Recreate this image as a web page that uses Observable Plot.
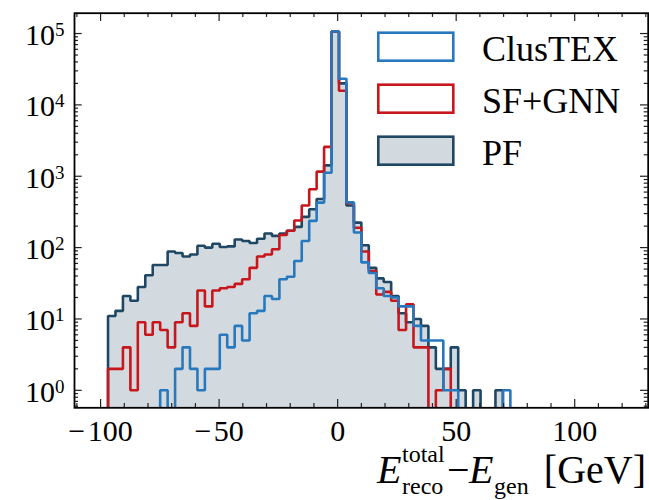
<!DOCTYPE html>
<html>
<head>
<meta charset="utf-8">
<script src="https://cdn.jsdelivr.net/npm/d3@7"></script>
<script src="https://cdn.jsdelivr.net/npm/@observablehq/plot@0.6"></script>
<style>
  html, body { margin: 0; padding: 0; background: #fff; }
  svg { display: block; }
</style>
</head>
<body>
<div id="chart"></div>
<script>
// Binning: 70 equal-width bins over [-100, 120] GeV
const binStart = -100;
const binEnd = 120;
const binCount = 70;

// Entries per bin (bin 0 starts at -100 GeV)
const clustex = [
  0, 0, 0, 0, 0, 0, 0, 0, 1, 0,
  2, 4, 2, 1, 2, 2, 6, 4, 8, 5,
  12, 13, 21, 19, 36, 39, 65, 124, 237, 427,
  1120, 107000, 23300, 430, 163, 62, 44, 27, 21, 20,
  15, 15, 8, 5, 5, 5, 1, 1, 0, 0,
  0, 0, 0, 0, 1, 0, 0, 0, 0, 0,
  0, 0, 0, 0, 0, 0, 0, 0, 0, 0
];
const sfgnn = [
  0, 2, 2, 4, 1, 9, 6, 9, 7, 4,
  9, 12, 8, 25, 15, 25, 27, 28, 31, 36,
  52, 75, 80, 95, 150, 172, 240, 390, 656, 1160,
  2580, 106000, 15800, 420, 190, 88, 47, 22, 24, 18,
  7, 16, 4, 4, 0, 1, 2, 0, 0, 0,
  0, 0, 0, 0, 0, 0, 0, 0, 0, 0,
  0, 0, 0, 0, 0, 0, 0, 0, 0, 0
];
const pf = [
  0, 11, 13, 21, 18, 28, 41, 57, 57, 88,
  84, 75, 80, 106, 100, 113, 102, 104, 130, 124,
  116, 133, 158, 146, 158, 172, 195, 270, 345, 480,
  1420, 106500, 20000, 390, 224, 108, 52, 37, 33, 21,
  12, 9, 10, 8, 4, 2, 2, 4, 1, 0,
  1, 0, 0, 1, 0, 0, 0, 0, 0, 0,
  0, 0, 0, 0, 0, 0, 0, 0, 0, 0
];

const seriesNames = ["ClusTEX", "SF+GNN", "PF"];
const seriesColors = ["#2878bd", "#c8161d", "#1f4763"];
const pfFillOpacity = 0.2;

const xMajorTicks = [-100, -50, 0, 50, 100];
const xTickLabels = ["\u2212\u200A100", "\u2212\u200A50", "0", "50", "100"];
const xMinorTicks = [-110, -90, -80, -70, -60, -40, -30, -20, -10, 10, 20, 30, 40, 60, 70, 80, 90, 110, 120, 130];
const yExponents = [0, 1, 2, 3, 4, 5];

// ---- layout ----
const width = 649, height = 500;
const margin = {top: 12.7, right: 1.3, bottom: 92.7, left: 74};
const frameW = width - margin.left - margin.right;
const frameH = height - margin.top - margin.bottom;
const yDomain = [10 ** -0.245, 10 ** 5.285];
const serif = "'Liberation Serif', 'Times New Roman', Times, serif";

// log-scale minor ticks: 2..9 x 10^k inside the visible range
const yMinorTicks = [];
for (let k = -1; k <= 5; k++) for (let m = 2; m <= 9; m++) {
  const v = m * 10 ** k;
  if (v > yDomain[0] && v < yDomain[1]) yMinorTicks.push(v);
}

// step outline points; empty bins fall below the visible range
const binW = (binEnd - binStart) / binCount;
const floor = 1e-2;
function steps(counts) {
  const pts = counts.map((c, i) => ({x: binStart + i * binW, y: c > 0 ? c : floor}));
  pts.push({x: binEnd, y: pts[pts.length - 1].y});
  return pts;
}
const cxSteps = steps(clustex);
const sfSteps = steps(sfgnn);
const pfSteps = steps(pf);

const lineStyle = {x: "x", y: "y", curve: "step-after", strokeWidth: 2.6, strokeLinejoin: "miter", clip: true};
const tickStyle = {stroke: "#222", strokeWidth: 1.2};

const plot = Plot.plot({
  width, height,
  marginTop: margin.top, marginRight: margin.right, marginBottom: margin.bottom, marginLeft: margin.left,
  x: {domain: [-111, 131], axis: null},
  y: {type: "log", domain: yDomain, axis: null},
  style: {fontFamily: serif, fontSize: "30px", background: "white", color: "black"},
  marks: [
    Plot.areaY(pfSteps, {x: "x", y1: floor, y2: "y", curve: "step-after", fill: seriesColors[2], fillOpacity: pfFillOpacity, clip: true}),
    Plot.line(pfSteps, {...lineStyle, stroke: seriesColors[2]}),
    Plot.line(sfSteps, {...lineStyle, stroke: seriesColors[1]}),
    Plot.line(cxSteps, {...lineStyle, stroke: seriesColors[0]}),

    // inward ticks on all four sides
    Plot.tickX(xMajorTicks, {x: d => d, insetTop: frameH - 8.3, ...tickStyle}),
    Plot.tickX(xMajorTicks, {x: d => d, insetBottom: frameH - 8.3, ...tickStyle}),
    Plot.tickX(xMinorTicks, {x: d => d, insetTop: frameH - 4.2, ...tickStyle}),
    Plot.tickX(xMinorTicks, {x: d => d, insetBottom: frameH - 4.2, ...tickStyle}),
    Plot.tickY(yExponents, {y: d => 10 ** d, insetRight: frameW - 7.7, ...tickStyle}),
    Plot.tickY(yExponents, {y: d => 10 ** d, insetLeft: frameW - 7.7, ...tickStyle}),
    Plot.tickY(yMinorTicks, {y: d => d, insetRight: frameW - 4, ...tickStyle}),
    Plot.tickY(yMinorTicks, {y: d => d, insetLeft: frameW - 4, ...tickStyle}),

    // tick labels
    Plot.text(xMajorTicks, {x: d => d, text: (d, i) => xTickLabels[i], frameAnchor: "bottom", lineAnchor: "bottom", dy: 33, fontSize: 30, fill: "black"}),
    Plot.text(yExponents, {y: d => 10 ** d, text: () => "10", frameAnchor: "left", textAnchor: "end", lineAnchor: "bottom", dx: -19.5, dy: 11.5, fontSize: 30, fill: "black"}),
    Plot.text(yExponents, {y: d => 10 ** d, text: d => String(d), frameAnchor: "left", textAnchor: "start", lineAnchor: "bottom", dx: -19.5, dy: 2.5, fontSize: 19, fill: "black"}),

    Plot.frame({stroke: "black", strokeWidth: 1.8})
  ]
});

// legend
const svg = d3.select(plot);
const legend = svg.append("g")
  .attr("font-family", serif).attr("fill", "black").attr("text-anchor", "start");
seriesNames.forEach((name, i) => {
  const y0 = 32.7 + i * 52;
  legend.append("rect")
    .attr("x", 378.3).attr("y", y0).attr("width", 75).attr("height", 28)
    .attr("fill", i === 2 ? d3.interpolateRgb("white", seriesColors[2])(pfFillOpacity) : "white")
    .attr("stroke", seriesColors[i]).attr("stroke-width", 2.6);
  legend.append("text")
    .attr("x", 482).attr("y", y0 + 28.3).attr("font-size", 36)
    .text(name);
});

// x-axis title: E_reco^total - E_gen [GeV]
const xTitle = svg.append("g")
  .attr("font-family", serif).attr("fill", "black").attr("text-anchor", "start");
const piece = (x, y, size, text, italic, anchor) => xTitle.append("text")
  .attr("x", x).attr("y", y).attr("font-size", size)
  .attr("font-style", italic ? "italic" : "normal")
  .attr("text-anchor", anchor || "start").text(text);
piece(377, 483, 40, "E", true);
piece(402, 462, 24, "total", false);
piece(402, 494, 24, "reco", false);
piece(447, 483, 40, "\u2212", false);
piece(469, 483, 40, "E", true);
piece(494, 494, 24, "gen", false);
piece(646, 483, 40, "[GeV]", false, "end");

document.getElementById("chart").appendChild(plot);
</script>
</body>
</html>
